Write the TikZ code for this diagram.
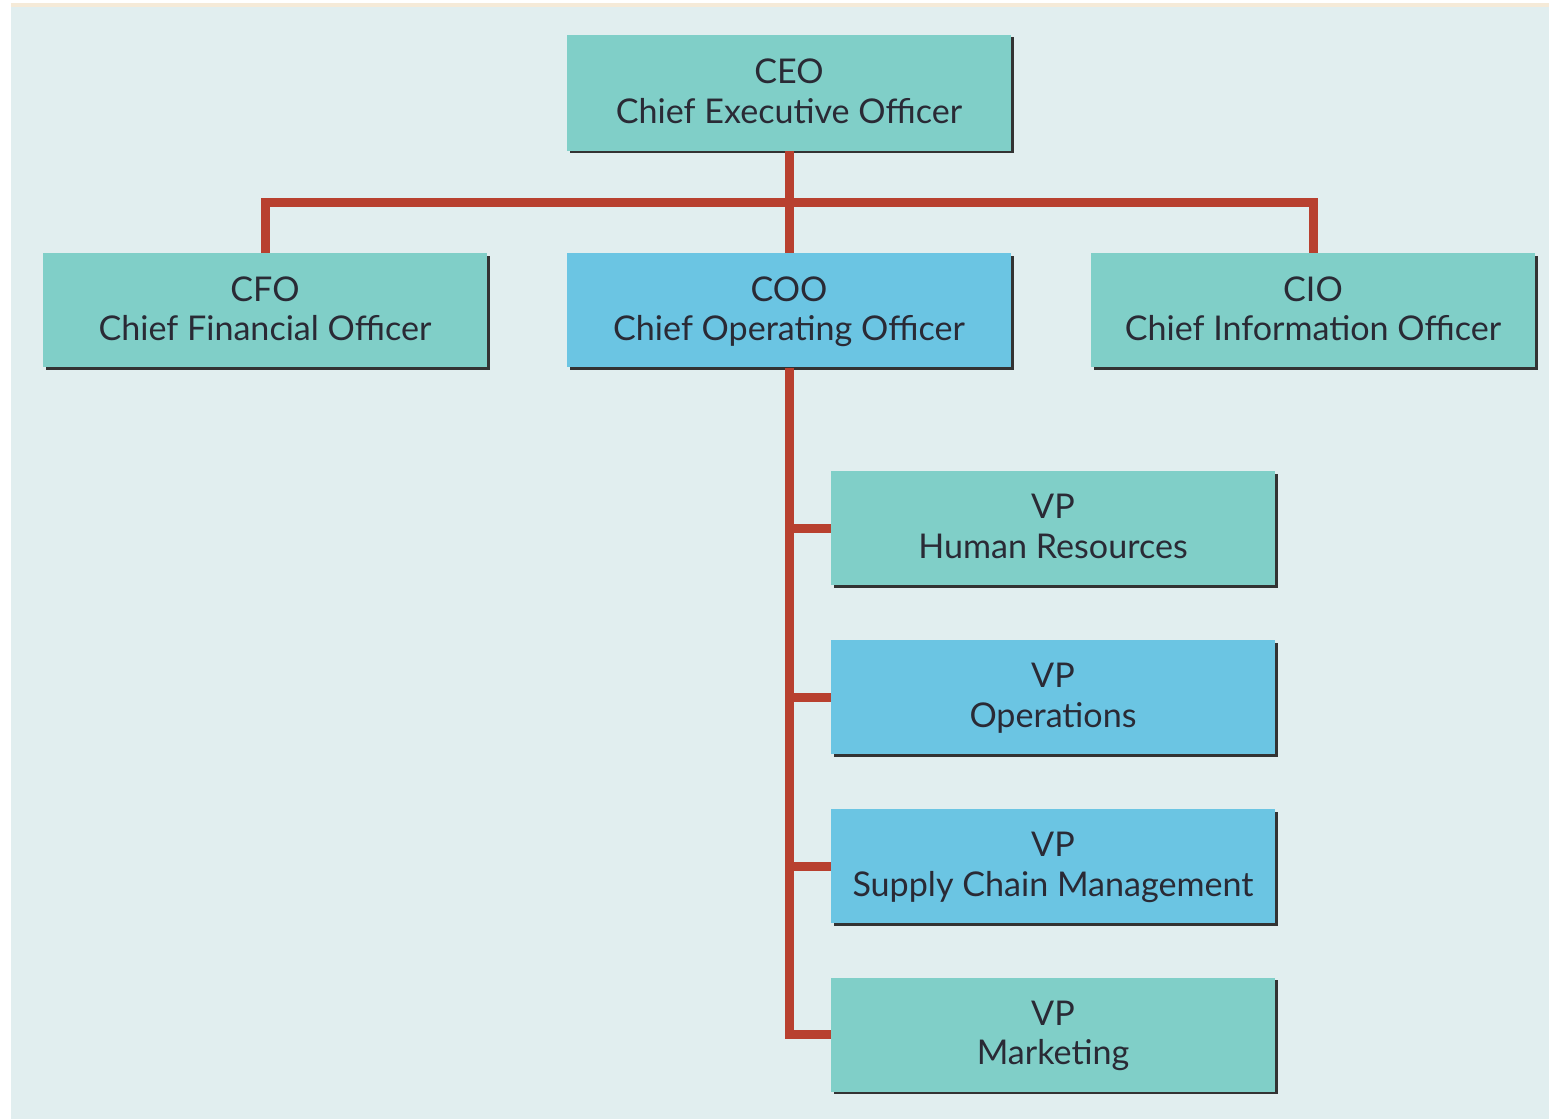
\documentclass[tikz,border=0pt]{standalone}
\usepackage{fontspec}
\setmainfont{Lato}
\usetikzlibrary{shadows}

\definecolor{panelbg}{HTML}{E1EEEF}
\definecolor{topstrip}{HTML}{F5EAD8}
\definecolor{tealbox}{HTML}{80CFC8}
\definecolor{bluebox}{HTML}{6BC5E3}
\definecolor{linkred}{HTML}{B8402F}
\definecolor{boxtext}{HTML}{2A2A35}

\begin{document}
\begin{tikzpicture}[
    post/.style={
      rectangle,
      draw=none,
      minimum width=8.88cm,
      minimum height=2.28cm,
      text centered,
      align=center,
      text=boxtext,
      text depth=0.07cm,
      font=\fontsize{19.4}{22.5}\selectfont,
      drop shadow={shadow xshift=0.05cm, shadow yshift=-0.05cm,
                   fill=black!80, opacity=1}
    },
    teal/.style={
      post,
      fill=tealbox
    },
    blue/.style={
      post,
      fill=bluebox
    },
    link/.style={
      draw=linkred,
      line width=0.18cm
    }
  ]

    % Page and panel
    \useasboundingbox (0,0) rectangle (30.98,-22.38);
    \fill[white] (0,0) rectangle (30.98,-22.38);
    \fill[panelbg] (0.22,-0.14) rectangle (30.98,-22.38);
    \fill[topstrip] (0.22,-0.06) rectangle (30.98,-0.14);

    % Top level
    \node[teal, minimum height=2.32cm] (ceo) at (15.78,-1.86) {CEO\\Chief Executive Officer};

    % Second level
    \node[teal] (cfo) at (5.30,-6.21) {CFO\\Chief Financial Officer};
    \node[blue] (coo) at (15.78,-6.21) {COO\\Chief Operating Officer};
    \node[teal] (cio) at (26.26,-6.21) {CIO\\Chief Information Officer};

    % Vice presidents under the COO
    \node[teal] (vphr) at (21.06,-10.56) {VP\\Human Resources};
    \node[blue] (vpops) at (21.06,-13.94) {VP\\Operations};
    \node[blue] (vpscm) at (21.06,-17.32) {VP\\Supply Chain Management};
    \node[teal] (vpmkt) at (21.06,-20.69) {VP\\Marketing};

    % Connectors
    \coordinate (bar) at (15.78,-4.06);
    \draw[link] (ceo.south) -- (coo.north);
    \draw[link] (cfo.north) -- (cfo.north |- bar) -- (cio.north |- bar) -- (cio.north);
    \draw[link] (coo.south) |- (vpmkt.west);
    \draw[link] (coo.south |- vphr.west) -- (vphr.west);
    \draw[link] (coo.south |- vpops.west) -- (vpops.west);
    \draw[link] (coo.south |- vpscm.west) -- (vpscm.west);

  \end{tikzpicture}
\end{document}
